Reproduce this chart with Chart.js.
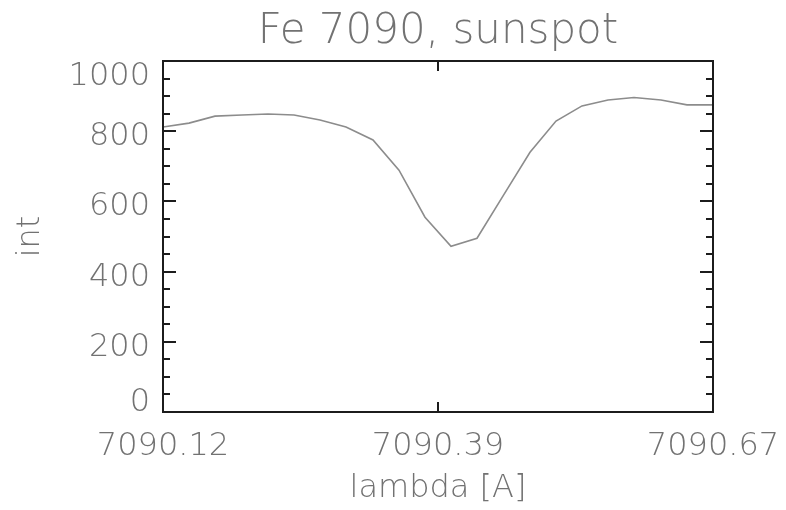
<!DOCTYPE html>
<html>
<head>
<meta charset="utf-8">
<script src="https://cdn.jsdelivr.net/npm/chart.js@4"></script>
<style>
  html, body { margin: 0; padding: 0; background: #fff; }
</style>
</head>
<body>
<canvas id="chart" width="786" height="510"></canvas>
<script>
// Perfil da linha Fe 7090 na mancha solar
const lambda = [
    7090.120, 7090.146, 7090.172, 7090.199, 7090.225, 7090.251, 7090.277, 7090.303,
    7090.330, 7090.356, 7090.382, 7090.408, 7090.434, 7090.461, 7090.487, 7090.513,
    7090.539, 7090.565, 7090.591, 7090.618, 7090.644, 7090.670
];
const intensity = [
    812, 823, 843, 846, 849, 846, 832, 812,
    775, 689, 555, 472, 495, 620, 740, 829,
    872, 889, 896, 889, 875, 875
];
const xTickValues = [7090.12, 7090.395, 7090.67];
const xTickLabels = ["7090.12", "7090.39", "7090.67"];
const yTickValues = [0, 200, 400, 600, 800, 1000];
const yMinorStep = 50;
const titleText = "Fe 7090, sunspot";

const gray = "#727272";
const family = "'DejaVu Sans', sans-serif";
const weight = 200; // traço fino, parecido com a fonte Hershey

// Moldura estilo IDL: caixa, ticks para dentro, rótulos do eixo y e título
const idlFrame = {
    id: "idlFrame",
    afterDatasetsDraw(chart) {
        const { ctx, chartArea: a, scales: { x, y } } = chart;
        ctx.save();
        ctx.strokeStyle = "#1c1c1c";
        ctx.lineWidth = 2;
        ctx.strokeRect(a.left, a.top, a.right - a.left, a.bottom - a.top);

        ctx.beginPath();
        for (let v = y.min; v <= y.max; v += yMinorStep) {
            const py = Math.round(y.getPixelForValue(v));
            const len = yTickValues.includes(v) ? 13 : 7;
            ctx.moveTo(a.left, py); ctx.lineTo(a.left + len, py);
            ctx.moveTo(a.right, py); ctx.lineTo(a.right - len, py);
        }
        xTickValues.forEach(v => {
            const px = Math.round(x.getPixelForValue(v));
            ctx.moveTo(px, a.bottom); ctx.lineTo(px, a.bottom - 10);
            ctx.moveTo(px, a.top); ctx.lineTo(px, a.top + 10);
        });
        ctx.stroke();

        ctx.fillStyle = gray;
        ctx.font = weight + " 32px " + family;
        ctx.textAlign = "right";
        ctx.textBaseline = "alphabetic";
        yTickValues.forEach(v => {
            let base = y.getPixelForValue(v) + 14;
            base = Math.max(base, a.top + 24);
            base = Math.min(base, a.bottom - 1.5);
            ctx.fillText(String(v), a.left - 13, base);
        });

        ctx.font = weight + " 42px " + family;
        ctx.textAlign = "center";
        ctx.fillText(titleText, (a.left + a.right) / 2, 43);
        ctx.restore();
    }
};

new Chart(document.getElementById("chart"), {
    type: "line",
    data: {
        datasets: [{
            data: lambda.map((l, i) => ({ x: l, y: intensity[i] })),
            borderColor: "#8c8c8c",
            borderWidth: 1.6,
            pointRadius: 0,
            tension: 0,
            fill: false
        }]
    },
    options: {
        responsive: false,
        animation: false,
        devicePixelRatio: 1,
        layout: { padding: { top: 61, right: 73, bottom: 0, left: 0 } },
        plugins: { legend: { display: false }, tooltip: { enabled: false } },
        scales: {
            x: {
                type: "linear",
                min: 7090.12,
                max: 7090.67,
                afterBuildTicks: s => { s.ticks = xTickValues.map(v => ({ value: v })); },
                afterFit: s => { s.height = 98; s.paddingLeft = 0; s.paddingRight = 0; },
                grid: { display: false, drawTicks: false },
                border: { display: false },
                ticks: {
                    autoSkip: false,
                    maxRotation: 0,
                    padding: 15,
                    color: gray,
                    font: { family: family, size: 32, weight: weight },
                    callback: (v, i) => xTickLabels[i]
                },
                title: {
                    display: true,
                    text: "lambda [A]",
                    color: gray,
                    font: { family: family, size: 32, weight: weight },
                    padding: { top: 0, bottom: 2 }
                }
            },
            y: {
                min: 0,
                max: 1000,
                afterBuildTicks: s => { s.ticks = yTickValues.map(v => ({ value: v })); },
                afterFit: s => { s.width = 163; },
                grid: { display: false },
                border: { display: false },
                ticks: { display: false },
                title: {
                    display: true,
                    text: "int",
                    color: gray,
                    font: { family: family, size: 32, weight: weight },
                    padding: { top: 11, bottom: 0 }
                }
            }
        }
    },
    plugins: [idlFrame]
});
</script>
</body>
</html>
